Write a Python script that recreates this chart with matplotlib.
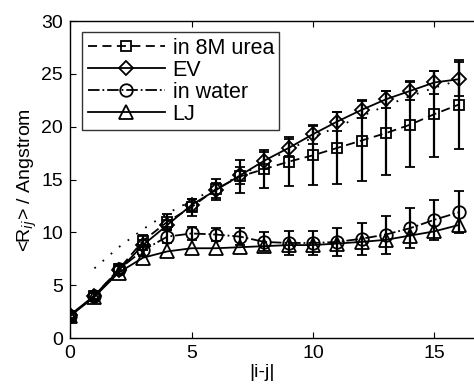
import matplotlib
matplotlib.use('Agg')
import matplotlib.pyplot as plt
import numpy as np

plt.rcParams['font.family'] = ['Liberation Sans', 'DejaVu Sans']

sep = np.arange(17)

urea = [2.1, 4.0, 6.5, 9.2, 11.0, 12.4, 14.1, 15.3, 16.0, 16.7, 17.3, 18.0, 18.7, 19.4, 20.2, 21.2, 22.1]
urea_err = [0.4, 0.4, 0.5, 0.6, 0.7, 0.8, 1.0, 1.6, 1.8, 2.3, 2.8, 3.4, 3.8, 4.0, 4.0, 4.1, 4.2]

ev = [2.2, 4.0, 6.4, 8.8, 10.7, 12.6, 14.0, 15.4, 16.8, 18.0, 19.3, 20.5, 21.6, 22.6, 23.4, 24.2, 24.5]
ev_err = [0.3, 0.3, 0.4, 0.5, 0.5, 0.6, 0.7, 0.8, 0.8, 0.8, 0.9, 0.9, 0.8, 0.8, 0.9, 1.1, 1.6]

water = [2.1, 4.0, 6.5, 8.3, 9.6, 9.9, 9.8, 9.6, 9.1, 9.0, 9.0, 9.1, 9.4, 9.8, 10.4, 11.2, 11.9]
water_err = [0.3, 0.3, 0.4, 0.5, 0.6, 0.6, 0.6, 0.8, 0.9, 1.1, 1.1, 1.3, 1.5, 1.8, 1.9, 1.9, 2.0]

lj = [2.1, 3.9, 6.2, 7.6, 8.2, 8.5, 8.5, 8.6, 8.7, 8.8, 8.8, 8.95, 9.1, 9.3, 9.7, 10.1, 10.7]

fit_x = np.arange(1, 17)
fit = [6.6, 8.6, 10.3, 11.8, 13.0, 14.2, 15.4, 16.6, 17.8, 19.0, 20.0, 21.0, 22.0, 22.9, 23.7, 24.4]

fig = plt.figure(figsize=(4.74, 3.85), dpi=100)
ax = fig.add_axes([0.148, 0.122, 0.871, 0.823])

ebkw = dict(ecolor='k', elinewidth=1.6, capsize=3.5, capthick=1.6)
mkw = dict(color='k', mfc='none', mec='k', mew=1.3, lw=1.3)

ax.plot(fit_x, fit, color='k', ls=(0, (1, 5)), lw=1.3)

e1 = ax.errorbar(sep, urea, yerr=urea_err, fmt='s', ls=(0, (5, 3)), ms=7.5, label='in 8M urea', **mkw, **ebkw)
e2 = ax.errorbar(sep, ev, yerr=ev_err, fmt='D', ls='-', ms=7.5, label='EV', **mkw, **ebkw)
e3 = ax.errorbar(sep, water, yerr=water_err, fmt='o', ls='-.', ms=9, label='in water', **mkw, **ebkw)
l4, = ax.plot(sep, lj, marker='^', ls='-', ms=9.5, label='LJ', **mkw)

ax.set_xlim(0, 17)
ax.set_ylim(0, 30)
ax.set_xticks([0, 5, 10, 15])
ax.set_yticks([0, 5, 10, 15, 20, 25, 30])
ax.tick_params(direction='in', top=True, right=True, labelsize=14, length=4, pad=5)
for s in ax.spines.values():
    s.set_linewidth(1.0)

ax.set_xlabel('|i-j|', fontsize=14)
ax.xaxis.set_label_coords(0.465, -0.083)
ax.set_ylabel('<R$_{ij}$> / Angstrom', fontsize=14, labelpad=2)

handles = [e1.lines[0], e2.lines[0], e3.lines[0], l4]
labels = ['in 8M urea', 'EV', 'in water', 'LJ']
leg = ax.legend(handles, labels, loc='upper left', bbox_to_anchor=(0.029, 0.965),
                fontsize=15.5, frameon=True, fancybox=False, edgecolor='k',
                handlelength=3.6, handletextpad=0.35, labelspacing=0.05,
                borderpad=0.25, borderaxespad=0)
leg.get_frame().set_linewidth(1.0)

fig.savefig('out.png', dpi=100)
